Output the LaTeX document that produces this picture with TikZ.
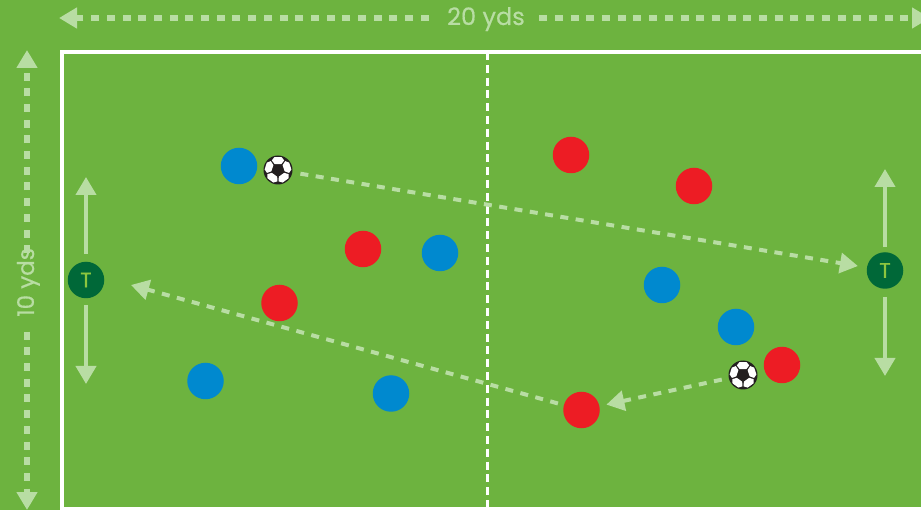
\documentclass[tikz,border=0pt]{standalone}
\usepackage{fontspec}
\setmainfont{Poppins}[FakeBold=0.5]
\usetikzlibrary{arrows.meta,calc}
\definecolor{pitch}{HTML}{6DB33F}
\definecolor{pale}{HTML}{B8DDA3}
\definecolor{bluep}{HTML}{0089CF}
\definecolor{redp}{HTML}{ED1C24}
\definecolor{tdark}{HTML}{006838}
\definecolor{ttext}{HTML}{8CC63F}
\newcommand{\ballart}[1]{%
  \begin{scope}[shift={(#1.center)}]
    \foreach \a in {18,90,162,234,306}{
      \fill[white,rotate=\a] (5.9,-3.3) -- (5.9,3.3) -- (9.6,6.2) -- (12.9,3.6) -- (12.9,-3.6) -- (9.6,-6.2) -- cycle;
    }
  \end{scope}}
\tikzset{
  player/.style={circle,inner sep=0,minimum size=36.5pt},
  blueplayer/.style={player,fill=bluep},
  redplayer/.style={player,fill=redp},
  target/.style={player,fill=tdark,text=ttext,font=\fontsize{21}{21}\selectfont},
  ball/.style={circle,inner sep=0,minimum size=29pt,fill={rgb,255:red,35;green,31;blue,32}},
  dimlabel/.style={text=pale,inner sep=0,text height=17pt,text depth=3pt},
  tip/.style={-{Triangle[width=20pt,length=18pt]}},
  dimline/.style={tip,pale,line width=5.2pt,dash pattern=on 8pt off 7.7pt},
  passline/.style={tip,pale,line width=4pt,dash pattern=on 8pt off 7.5pt},
  runline/.style={tip,pale,line width=4pt},
}
\begin{document}
\begin{tikzpicture}[x=1pt,y=-1pt]
\useasboundingbox (0,0) rectangle (921,510);
\fill[pitch] (0,0) rectangle (921,510);
% field
\draw[white,line width=4pt] (950,52) -- (61.5,52) -- (61.5,508.5) -- (950,508.5);
\draw[white,line width=3pt,dash pattern=on 8pt off 4.8pt,dash phase=2pt] (487.5,54) -- (487.5,507);
% coordinates
\coordinate (dimL) at (59,18);
\coordinate (dimR) at (930,18);
\coordinate (dimT) at (27,50);
\coordinate (dimB) at (27,510);
\coordinate (t1up) at (86,177);
\coordinate (t1dn) at (86,384);
\coordinate (t2up) at (885,169);
\coordinate (t2dn) at (885,376);
\coordinate (passL) at (131,285);
% labels
\node[dimlabel,minimum width=114pt,font=\fontsize{24}{24}\selectfont] (len) at (486,18) {20 yds};
\node[dimlabel,minimum width=98pt,rotate=90,font=\fontsize{23}{23}\selectfont] (wid) at (27,282.5) {10 yds};
\draw[dimline] (len) -- (dimL);
\draw[dimline,shorten <=-4pt] (len) -- (dimR);
\draw[dimline,shorten <=-20pt] (wid) -- (dimT);
\draw[dimline] (wid) -- (dimB);
% players
\node[blueplayer] (b1) at (239,166) {};
\node[blueplayer] (b2) at (440,253) {};
\node[blueplayer] (b3) at (205.5,381) {};
\node[blueplayer] (b4) at (391,393.5) {};
\node[blueplayer] (b5) at (662,285) {};
\node[blueplayer] (b6) at (736,327) {};
\node[redplayer] (r1) at (571,155) {};
\node[redplayer] (r2) at (694,186) {};
\node[redplayer] (r3) at (363,249) {};
\node[redplayer] (r4) at (279.5,303) {};
\node[redplayer] (r5) at (782,365) {};
\node[redplayer] (r6) at (581.5,410) {};
\node[target] (t1) at (86,280) {T};
\node[target] (t2) at (885,270.5) {T};
\node[ball] (ball1) at (278,170) {};
\node[ball] (ball2) at (743,375) {};
\ballart{ball1}
\ballart{ball2}
% passes
\draw[passline,shorten <=8pt,shorten >=9pt] (ball1) -- (t2);
\draw[passline,shorten <=7pt,shorten >=7pt] (ball2) -- (r6);
\draw[passline,shorten <=6pt] (r6) -- (passL);
% movement
\draw[runline,shorten <=8pt] (t1) -- (t1up);
\draw[runline,shorten <=7pt] (t1) -- (t1dn);
\draw[runline,shorten <=5pt] (t2) -- (t2up);
\draw[runline,shorten <=8pt] (t2) -- (t2dn);
\end{tikzpicture}
\end{document}
